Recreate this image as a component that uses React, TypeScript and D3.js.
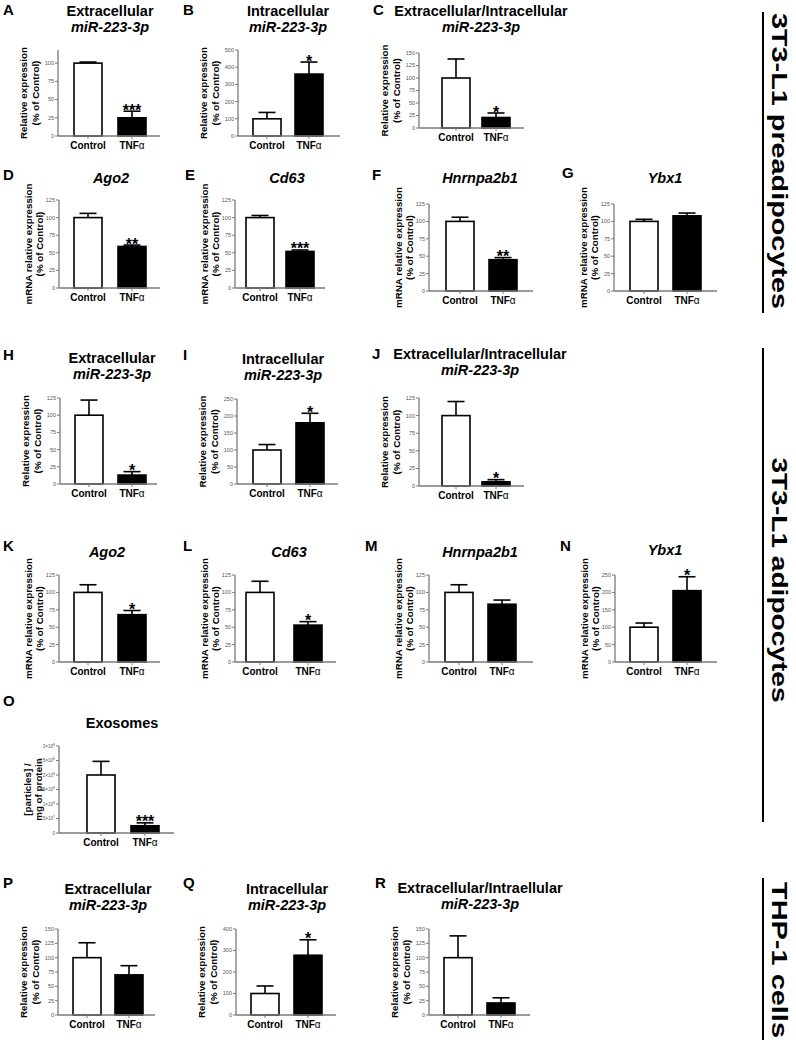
import React from "react";
import * as d3 from "d3";

// ---------- DATA ----------
const panelIds = ["A","B","C","D","E","F","G","H","I","J","K","L","M","N","O","P","Q","R"];
const titleLine1 = [
  "Extracellular","Intracellular","Extracellular/Intracellular",
  "Ago2","Cd63","Hnrnpa2b1","Ybx1",
  "Extracellular","Intracellular","Extracellular/Intracellular",
  "Ago2","Cd63","Hnrnpa2b1","Ybx1",
  "Exosomes",
  "Extracellular","Intracellular","Extracellular/Intraellular",
];
const titleLine2 = [
  "miR-223-3p","miR-223-3p","miR-223-3p","","","","",
  "miR-223-3p","miR-223-3p","miR-223-3p","","","","",
  "",
  "miR-223-3p","miR-223-3p","miR-223-3p",
];
const titleItalic = [false,false,false,true,true,true,true,false,false,false,true,true,true,true,false,false,false,false];
const categories = ["Control", "TNFα"];
const controlMean = [100,100,100,100,100,100,100,100,100,100,100,100,100,100,2.0e8,100,100,100];
const controlSem  = [1.5,37,38,6,3,6,3,22,16,20,11,16,11,12,0.47e8,26,35,38];
const tnfMean     = [25,360,21,59,52,45,108,13,180,6,68,53,83,205,2.5e7,70,278,21];
const tnfSem      = [9,70,9,2,2,3,4,5,28,3,6,5,6,40,1.0e7,16,72,9];
const significance = ["***","*","*","**","***","**","","*","*","*","*","*","","*","***","","*",""];
const yMax  = [118,500,150,125,125,125,125,125,250,125,125,125,125,250,3e8,150,400,150];
const yStep = [25,100,25,25,25,25,25,25,50,25,25,25,25,50,5e7,25,100,25];
const yLabelKind = ["rel","rel","rel","mrna","mrna","mrna","mrna","rel","rel","rel","mrna","mrna","mrna","mrna","part","rel","rel","rel"];
const yLabelLines: Record<string, string[]> = {
  rel: ["Relative expression", "(% of Control)"],
  mrna: ["mRNA relative expression", "(% of Control)"],
  part: ["[particles] /", "mg of protein"],
};
const groupLabels = ["3T3-L1 preadipocytes", "3T3-L1 adipocytes", "THP-1 cells"];

// ---------- LAYOUT ----------
const layout = [
  { ax: 58, top: 50, bot: 136, c1: 74, c2: 118, xEnd: 160, tx: 110, ty: 16, lx: 3, ly: 15 },
  { ax: 238, top: 50, bot: 136, c1: 253, c2: 295, xEnd: 340, tx: 288, ty: 16, lx: 183, ly: 15 },
  { ax: 419, top: 53, bot: 128, c1: 442, c2: 482, xEnd: 524, tx: 481, ty: 16, lx: 373, ly: 15 },
  { ax: 59, top: 200, bot: 288, c1: 74, c2: 118, xEnd: 160, tx: 111, ty: 183, lx: 3, ly: 180 },
  { ax: 235, top: 200, bot: 288, c1: 246, c2: 286, xEnd: 325, tx: 287, ty: 183, lx: 185, ly: 180 },
  { ax: 429, top: 204, bot: 291, c1: 446, c2: 489, xEnd: 533, tx: 480, ty: 183, lx: 372, ly: 180 },
  { ax: 614, top: 204, bot: 291, c1: 630, c2: 673, xEnd: 717, tx: 665, ty: 183, lx: 562, ly: 178 },
  { ax: 60, top: 398, bot: 484, c1: 75, c2: 118, xEnd: 157, tx: 112, ty: 363, lx: 3, ly: 360 },
  { ax: 237, top: 399, bot: 484, c1: 253, c2: 296, xEnd: 338, tx: 283, ty: 364, lx: 183, ly: 360 },
  { ax: 419, top: 398, bot: 486, c1: 442, c2: 482, xEnd: 524, tx: 480, ty: 359, lx: 372, ly: 359 },
  { ax: 59, top: 575, bot: 662, c1: 74, c2: 118, xEnd: 160, tx: 107, ty: 557, lx: 3, ly: 551 },
  { ax: 235, top: 575, bot: 662, c1: 246, c2: 294, xEnd: 336, tx: 289, ty: 557, lx: 183, ly: 551 },
  { ax: 429, top: 575, bot: 662, c1: 445, c2: 488, xEnd: 533, tx: 480, ty: 557, lx: 365, ly: 551 },
  { ax: 615, top: 575, bot: 662, c1: 630, c2: 673, xEnd: 717, tx: 665, ty: 555, lx: 560, ly: 551 },
  { ax: 59, top: 746, bot: 833, c1: 87, c2: 131, xEnd: 174, tx: 122, ty: 728, lx: 3, ly: 706 },
  { ax: 58, top: 929, bot: 1015, c1: 73, c2: 115, xEnd: 155, tx: 108, ty: 894, lx: 3, ly: 888 },
  { ax: 236, top: 929, bot: 1015, c1: 251, c2: 294, xEnd: 336, tx: 287, ty: 894, lx: 183, ly: 888 },
  { ax: 429, top: 929, bot: 1015, c1: 444, c2: 487, xEnd: 530, tx: 480, ty: 893, lx: 375, ly: 888 },
];
const groupLayout = [
  { x: 763, y0: 12, y1: 313, tc: 161, len: 296 },
  { x: 763, y0: 348, y1: 822, tc: 580, len: 245 },
  { x: 763, y0: 878, y1: 1040, tc: 960, len: 156 },
];
const labelOffsets: Record<string, number[]> = { rel: [-34, -22], mrna: [-30, -19], part: [-31, -20] };

const FONT = "'Liberation Sans', Arial, Helvetica, sans-serif";
const BAR_W = 28;
const AXIS_COLOR = "#7a7a7a";

function sciLabel(v: number) {
  if (v === 0) return <tspan>0</tspan>;
  const exp = Math.floor(Math.log10(v) + 1e-9);
  const m = +(v / Math.pow(10, exp)).toFixed(2);
  return (
    <>
      <tspan>{`${m}×10`}</tspan>
      <tspan dy={-2} fontSize={3.4}>{exp}</tspan>
    </>
  );
}

function Panel({ i }: { i: number }) {
  const L = layout[i];
  const step = L.c2 - L.c1;
  const x = d3.scaleBand<string>()
    .domain(categories)
    .range([L.c1, L.c2 + BAR_W])
    .paddingInner(1 - BAR_W / step)
    .paddingOuter(0);
  const y = d3.scaleLinear().domain([0, yMax[i]]).range([L.bot, L.top]);
  const ticks = d3.range(0, yMax[i] + yStep[i] * 0.01, yStep[i]);
  const means = [controlMean[i], tnfMean[i]];
  const sems = [controlSem[i], tnfSem[i]];
  const isSci = yLabelKind[i] === "part";
  const off = labelOffsets[yLabelKind[i]];
  const lines = yLabelLines[yLabelKind[i]];
  const cy = (L.top + L.bot) / 2;
  const bw = x.bandwidth();
  return (
    <g fontFamily={FONT}>
      <text x={L.lx} y={L.ly} fontSize={15} fontWeight="bold">{panelIds[i]}</text>
      {titleLine2[i] ? (
        <>
          <text x={L.tx} y={L.ty} fontSize={14.5} fontWeight="bold" textAnchor="middle">{titleLine1[i]}</text>
          <text x={L.tx} y={L.ty + 16} fontSize={14.5} fontWeight="bold" fontStyle="italic" textAnchor="middle">{titleLine2[i]}</text>
        </>
      ) : (
        <text x={L.tx} y={L.ty} fontSize={14.5} fontWeight="bold" fontStyle={titleItalic[i] ? "italic" : "normal"} textAnchor="middle">{titleLine1[i]}</text>
      )}
      {lines.map((t, k) => (
        <text key={k} transform={`translate(${L.ax + off[k] + 3.4},${cy}) rotate(-90)`} fontSize={9.8} fontWeight="bold" textAnchor="middle">{t}</text>
      ))}
      {categories.map((c, k) => (
        <rect key={c} x={x(c)} y={y(means[k])} width={bw} height={L.bot - y(means[k])}
          fill={k === 0 ? "#fff" : "#000"} stroke="#000" strokeWidth={1.6} />
      ))}
      {categories.map((c, k) => {
        const cx = (x(c) as number) + bw / 2;
        const yt = y(means[k] + sems[k]);
        return (
          <g key={c} stroke="#000" strokeWidth={1.6}>
            <line x1={cx} x2={cx} y1={y(means[k])} y2={yt} />
            <line x1={cx - 8.5} x2={cx + 8.5} y1={yt} y2={yt} />
          </g>
        );
      })}
      {significance[i] && (
        <text x={(x(categories[1]) as number) + bw / 2} y={y(tnfMean[i] + tnfSem[i]) + 4.5}
          fontSize={16} fontWeight="bold" textAnchor="middle">{significance[i]}</text>
      )}
      <line x1={L.ax} x2={L.ax} y1={L.top} y2={L.bot} stroke={AXIS_COLOR} strokeWidth={1.3} />
      <line x1={L.ax} x2={L.xEnd} y1={L.bot} y2={L.bot} stroke={AXIS_COLOR} strokeWidth={1.3} />
      {ticks.map((t) => (
        <g key={t}>
          <line x1={L.ax - 3} x2={L.ax} y1={y(t)} y2={y(t)} stroke={AXIS_COLOR} strokeWidth={1} />
          <text x={L.ax - 4} y={y(t) + 1.9} fontSize={isSci ? 4.6 : 5.5} fill="#555" textAnchor="end">
            {isSci ? sciLabel(t) : t}
          </text>
        </g>
      ))}
      {categories.map((c) => {
        const cx = (x(c) as number) + bw / 2;
        return (
          <g key={c}>
            <line x1={cx} x2={cx} y1={L.bot} y2={L.bot + 3} stroke={AXIS_COLOR} strokeWidth={1} />
            <text x={cx} y={L.bot + 12.5} fontSize={10} fontWeight="bold" textAnchor="middle">
              {c === "TNFα" ? (<><tspan>TNF</tspan><tspan fontWeight="normal">α</tspan></>) : c}
            </text>
          </g>
        );
      })}
    </g>
  );
}

export default function App() {
  return (
    <svg width={796} height={1040} style={{ position: "absolute", left: 0, top: 0, background: "#fff" }}>
      <rect width={796} height={1040} fill="#fff" />
      {panelIds.map((_, i) => <Panel key={i} i={i} />)}
      {groupLabels.map((g, k) => {
        const G = groupLayout[k];
        return (
          <g key={g}>
            <line x1={G.x} x2={G.x} y1={G.y0} y2={G.y1} stroke="#000" strokeWidth={2} />
            <text transform={`translate(${G.x + 9},${G.tc}) rotate(90)`} fontFamily="'Liberation Sans Narrow', 'Liberation Sans', Arial, sans-serif"
              fontSize={22} fontWeight="bold" textAnchor="middle" textLength={G.len} lengthAdjust="spacingAndGlyphs">{g}</text>
          </g>
        );
      })}
    </svg>
  );
}
